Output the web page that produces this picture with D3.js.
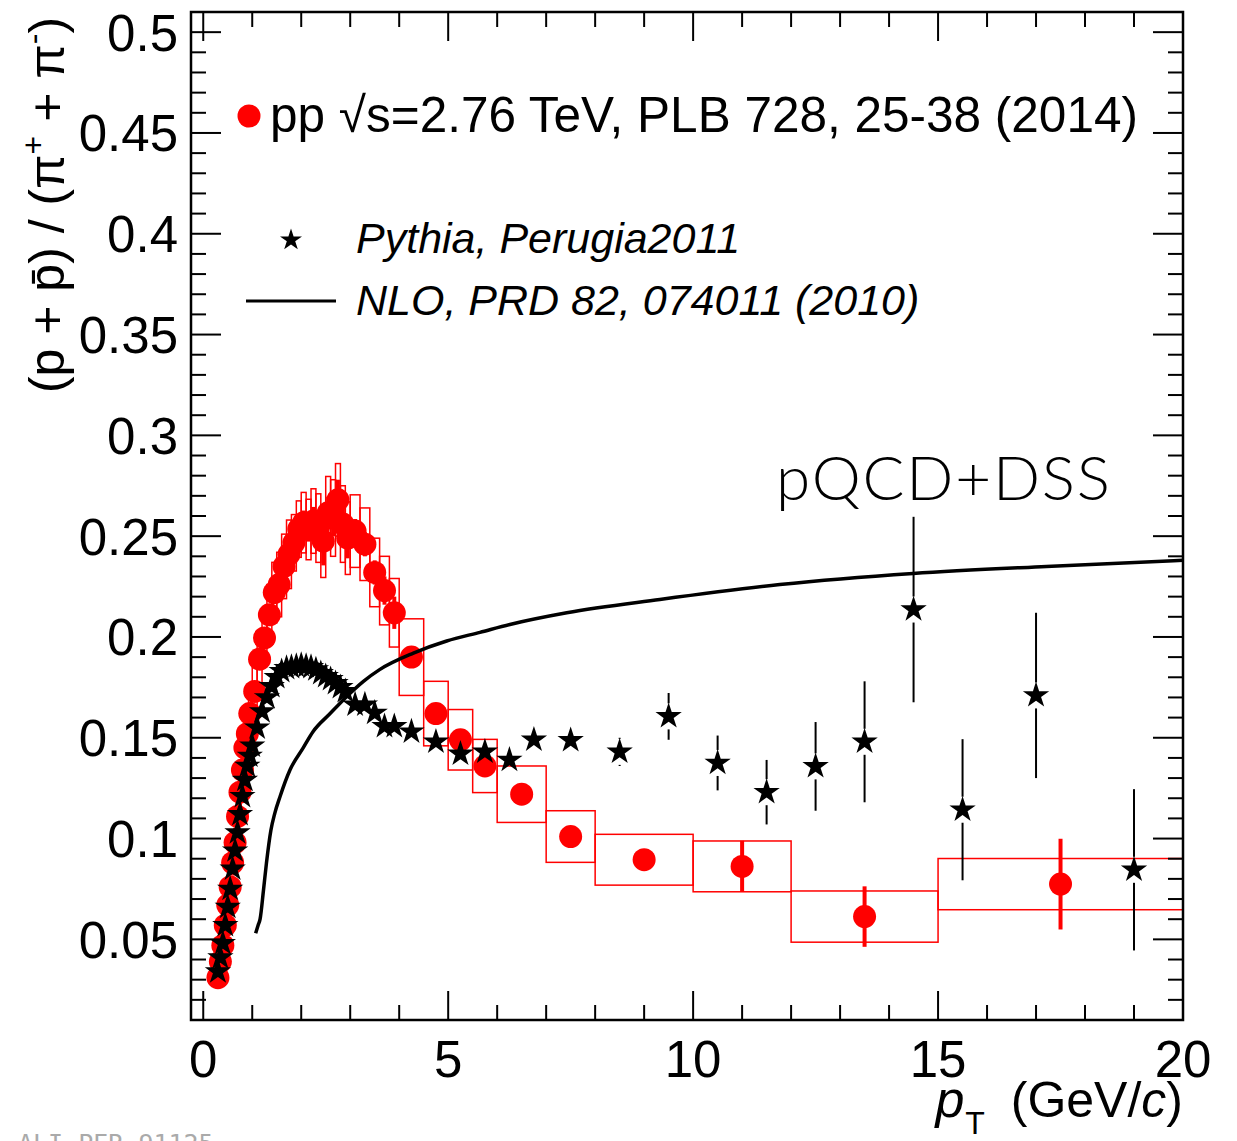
<!DOCTYPE html>
<html>
<head>
<meta charset="utf-8">
<script src="https://cdn.jsdelivr.net/npm/d3@7"></script>
<style>
  body { margin: 0; background: #fff; }
  text { font-family: "Liberation Sans", Arial, Helvetica, sans-serif; }
</style>
</head>
<body>
<div id="chart"></div>
<script>
// Chart size and plot frame
const width = 1237;
const height = 1141;
const margin = { top: 12, right: 54, bottom: 121, left: 191 };

// ALICE pp 2.76 TeV (p+pbar)/(pi+ + pi-) : pT, ratio, stat, sys, bin edges
const dataPt = [0.30, 0.35, 0.40, 0.45, 0.50, 0.55, 0.60, 0.65, 0.70, 0.75, 0.80, 0.85, 0.90, 0.95,
  1.05, 1.15, 1.25, 1.35, 1.45, 1.55, 1.65, 1.75, 1.85, 1.95, 2.05, 2.15, 2.25, 2.35, 2.45, 2.55, 2.65, 2.75, 2.85, 2.95,
  3.1, 3.3, 3.5, 3.7, 3.9,
  4.25, 4.75, 5.25, 5.75, 6.5, 7.5, 9, 11, 13.5, 17.5];
const dataVal = [0.031, 0.039, 0.047, 0.057, 0.067, 0.076, 0.088, 0.098, 0.111, 0.123, 0.134, 0.145, 0.152, 0.162,
  0.173, 0.189, 0.1995, 0.211, 0.222, 0.226, 0.235, 0.241, 0.2467, 0.2535, 0.2567, 0.2533, 0.2575, 0.254, 0.2475, 0.2616, 0.259, 0.268, 0.256, 0.249,
  0.2525, 0.246, 0.232, 0.223, 0.212,
  0.190, 0.162, 0.149, 0.136, 0.122, 0.101, 0.0895, 0.0862, 0.0613, 0.0774];
const dataStat = [0.001, 0.001, 0.001, 0.001, 0.001, 0.001, 0.002, 0.002, 0.002, 0.002, 0.002, 0.002, 0.003, 0.003,
  0.003, 0.004, 0.003, 0.003, 0.003, 0.003, 0.004, 0.004, 0.005, 0.005, 0.006, 0.006, 0.007, 0.008, 0.012, 0.008, 0.009, 0.010, 0.010, 0.010,
  0.006, 0.006, 0.006, 0.007, 0.008,
  0.003, 0.003, 0.003, 0.003, 0.002, 0.002, 0.003, 0.0127, 0.015, 0.0225];
const dataSys = [0.003, 0.003, 0.004, 0.004, 0.005, 0.005, 0.006, 0.007, 0.008, 0.009, 0.009, 0.010, 0.011, 0.011,
  0.012, 0.013, 0.014, 0.015, 0.015, 0.016, 0.016, 0.017, 0.014, 0.014, 0.015, 0.015, 0.016, 0.017, 0.018, 0.018, 0.019, 0.018, 0.019, 0.018,
  0.018, 0.018, 0.017, 0.017, 0.017,
  0.019, 0.016, 0.015, 0.0132, 0.014, 0.0128, 0.0126, 0.0126, 0.0127, 0.0127];
const dataBinLo = [0.275, 0.325, 0.375, 0.425, 0.475, 0.525, 0.575, 0.625, 0.675, 0.725, 0.775, 0.825, 0.875, 0.925,
  1.0, 1.1, 1.2, 1.3, 1.4, 1.5, 1.6, 1.7, 1.8, 1.9, 2.0, 2.1, 2.2, 2.3, 2.4, 2.5, 2.6, 2.7, 2.8, 2.9,
  3.0, 3.2, 3.4, 3.6, 3.8,
  4.0, 4.5, 5.0, 5.5, 6, 7, 8, 10, 12, 15];
const dataBinHi = [0.325, 0.375, 0.425, 0.475, 0.525, 0.575, 0.625, 0.675, 0.725, 0.775, 0.825, 0.875, 0.925, 0.975,
  1.1, 1.2, 1.3, 1.4, 1.5, 1.6, 1.7, 1.8, 1.9, 2.0, 2.1, 2.2, 2.3, 2.4, 2.5, 2.6, 2.7, 2.8, 2.9, 3.0,
  3.2, 3.4, 3.6, 3.8, 4.0,
  4.5, 5.0, 5.5, 6.0, 7, 8, 10, 12, 15, 20];

// Pythia Perugia2011
const pythiaPt = [0.3, 0.35, 0.4, 0.45, 0.5, 0.55, 0.6, 0.65, 0.7, 0.75, 0.8, 0.85, 0.9, 0.95, 1.0,
  1.1, 1.2, 1.3, 1.4, 1.5, 1.6, 1.7, 1.8, 1.9, 2.0, 2.1, 2.2, 2.3, 2.4, 2.5, 2.6, 2.7, 2.8, 2.9,
  3.1, 3.3, 3.5, 3.7, 3.9, 4.25, 4.75, 5.25, 5.75, 6.25, 6.75, 7.5, 8.5, 9.5, 10.5, 11.5, 12.5, 13.5, 14.5, 15.5, 17, 19];
const pythiaVal = [0.034, 0.041, 0.048, 0.057, 0.066, 0.075, 0.085, 0.094, 0.103, 0.112, 0.121, 0.129, 0.136, 0.141, 0.146,
  0.155, 0.163, 0.170, 0.1755, 0.180, 0.183, 0.1845, 0.185, 0.1855, 0.186, 0.1855, 0.185, 0.1838, 0.182, 0.1805, 0.179, 0.177, 0.175, 0.173,
  0.1664, 0.1664, 0.1623, 0.1557, 0.1557, 0.153, 0.148, 0.142, 0.143, 0.139, 0.149, 0.1487, 0.143, 0.1606, 0.1375, 0.123, 0.1358, 0.148, 0.2136, 0.1143, 0.171, 0.0845];
const pythiaErr = [0.001, 0.001, 0.001, 0.001, 0.001, 0.001, 0.001, 0.001, 0.001, 0.001, 0.001, 0.001, 0.001, 0.001, 0.001,
  0.001, 0.001, 0.001, 0.001, 0.001, 0.001, 0.001, 0.001, 0.001, 0.001, 0.001, 0.001, 0.001, 0.001, 0.001, 0.001, 0.001, 0.001, 0.001,
  0.001, 0.001, 0.002, 0.002, 0.002, 0.002, 0.002, 0.002, 0.003, 0.003, 0.003, 0.004, 0.007, 0.0116, 0.0136, 0.016, 0.022, 0.030, 0.046, 0.035, 0.041, 0.040];

// NLO pQCD+DSS curve
const nloPt = [1.07, 1.12, 1.16, 1.23, 1.29, 1.38, 1.46, 1.57, 1.77, 2.04, 2.24, 2.59, 2.93, 3.27, 3.6, 4.29, 4.97, 5.65, 6.26, 7.42, 9.32, 11.77, 14.49, 17.21, 20];
const nloVal = [0.053, 0.057, 0.060, 0.0745, 0.0878, 0.104, 0.1125, 0.121, 0.134, 0.145, 0.153, 0.162, 0.1705, 0.178, 0.1838, 0.192, 0.198, 0.2023, 0.2062, 0.212, 0.2186, 0.226, 0.2315, 0.235, 0.238];

// Axis ticks and labels
const xMajor = [0, 5, 10, 15, 20];
const xLabels = ["0", "5", "10", "15", "20"];
const yMajor = [0.05, 0.1, 0.15, 0.2, 0.25, 0.3, 0.35, 0.4, 0.45, 0.5];
const yLabels = ["0.05", "0.1", "0.15", "0.2", "0.25", "0.3", "0.35", "0.4", "0.45", "0.5"];

const red = "#ff0000";
const svg = d3.select("#chart").append("svg")
  .attr("width", width)
  .attr("height", height);

const x = d3.scaleLinear().domain([-0.25, 20]).range([margin.left, width - margin.right]);
const y = d3.scaleLinear().domain([0.01, 0.51]).range([height - margin.bottom, margin.top]);

const x0 = margin.left, x1 = width - margin.right;
const y0 = margin.top, y1 = height - margin.bottom;

// systematic boxes
const points = dataPt.map((pt, i) => ({ pt, v: dataVal[i], st: dataStat[i], sy: dataSys[i], lo: dataBinLo[i], hi: dataBinHi[i] }));
svg.append("g").selectAll("rect")
  .data(points)
  .enter().append("rect")
  .attr("x", d => x(d.lo))
  .attr("width", d => x(d.hi) - x(d.lo))
  .attr("y", d => y(d.v + d.sy))
  .attr("height", d => y(d.v - d.sy) - y(d.v + d.sy))
  .attr("fill", "none")
  .attr("stroke", red)
  .attr("stroke-width", 1.5);

// data points
svg.append("g").selectAll("circle")
  .data(points)
  .enter().append("circle")
  .attr("cx", d => x(d.pt))
  .attr("cy", d => y(d.v))
  .attr("r", 11.5)
  .attr("fill", red);

svg.append("g").selectAll("line")
  .data(points)
  .enter().append("line")
  .attr("x1", d => x(d.pt)).attr("x2", d => x(d.pt))
  .attr("y1", d => y(d.v + d.st)).attr("y2", d => y(d.v - d.st))
  .attr("stroke", red)
  .attr("stroke-width", 4);

// pythia stars with error bars (gap around marker)
const stars = pythiaPt.map((pt, i) => ({ pt, v: pythiaVal[i], e: pythiaErr[i] }));
const gap = 13;
const errG = svg.append("g").attr("stroke", "#000").attr("stroke-width", 2);
stars.forEach(d => {
  const yc = y(d.v), yt = y(d.v + d.e), yb = y(d.v - d.e);
  if (yc - gap > yt) errG.append("line").attr("x1", x(d.pt)).attr("x2", x(d.pt)).attr("y1", yt).attr("y2", yc - gap);
  if (yb > yc + gap) errG.append("line").attr("x1", x(d.pt)).attr("x2", x(d.pt)).attr("y1", yc + gap).attr("y2", yb);
});

const star = d3.symbol().type(d3.symbolStar).size(215);
svg.append("g").selectAll("path")
  .data(stars)
  .enter().append("path")
  .attr("transform", d => `translate(${x(d.pt)},${y(d.v)})`)
  .attr("d", star)
  .attr("fill", "#000");

// NLO line
const line = d3.line()
  .x((d, i) => x(nloPt[i]))
  .y(d => y(d))
  .curve(d3.curveMonotoneX);
svg.append("path")
  .attr("d", line(nloVal))
  .attr("fill", "none")
  .attr("stroke", "#000")
  .attr("stroke-width", 3.5);

// frame
svg.append("rect")
  .attr("x", x0).attr("y", y0)
  .attr("width", x1 - x0).attr("height", y1 - y0)
  .attr("fill", "none")
  .attr("stroke", "#000")
  .attr("stroke-width", 2.5);

// ticks on all four sides, pointing inwards
const tickG = svg.append("g").attr("stroke", "#000").attr("stroke-width", 2);
const xMinor = d3.range(0, 21, 1);
const yMinor = d3.range(1, 52).map(k => k / 100);
xMinor.forEach(v => {
  const len = xMajor.includes(v) ? 29 : 15;
  tickG.append("line").attr("x1", x(v)).attr("x2", x(v)).attr("y1", y1).attr("y2", y1 - len);
  tickG.append("line").attr("x1", x(v)).attr("x2", x(v)).attr("y1", y0).attr("y2", y0 + len);
});
yMinor.forEach(v => {
  const major = yMajor.some(m => Math.abs(m - v) < 1e-9);
  const len = major ? 30 : 15;
  tickG.append("line").attr("x1", x0).attr("x2", x0 + len).attr("y1", y(v)).attr("y2", y(v));
  tickG.append("line").attr("x1", x1).attr("x2", x1 - len).attr("y1", y(v)).attr("y2", y(v));
});

// tick labels
svg.append("g").selectAll("text")
  .data(xMajor)
  .enter().append("text")
  .attr("x", d => x(d))
  .attr("y", 1077)
  .attr("text-anchor", "middle")
  .attr("font-size", 51)
  .text((d, i) => xLabels[i]);

svg.append("g").selectAll("text")
  .data(yMajor)
  .enter().append("text")
  .attr("x", 178)
  .attr("y", d => y(d))
  .attr("dy", "0.36em")
  .attr("text-anchor", "end")
  .attr("font-size", 51)
  .text((d, i) => yLabels[i]);

// x title
const xt = svg.append("text")
  .attr("x", x1)
  .attr("y", 1117)
  .attr("text-anchor", "end")
  .attr("font-size", 50);
xt.append("tspan").attr("font-style", "italic").attr("font-size", 52).text("p");
xt.append("tspan").attr("font-size", 32).attr("dx", 1).attr("dy", 17).text("T");
xt.append("tspan").attr("dx", 12).attr("dy", -17).text("\u00a0(GeV/");
xt.append("tspan").attr("font-style", "italic").text("c");
xt.append("tspan").text(")");

// y title
const yt = svg.append("text")
  .attr("transform", "translate(64,205) rotate(-90)")
  .attr("text-anchor", "middle")
  .attr("font-size", 50);
yt.append("tspan").text("(p + p\u0304) / (\u03c0");
yt.append("tspan").attr("font-size", 32).attr("dy", -20).text("+");
yt.append("tspan").attr("dy", 20).text(" + \u03c0");
yt.append("tspan").attr("font-size", 32).attr("dy", -20).text("-");
yt.append("tspan").attr("dy", 20).text(")");

// legend
svg.append("circle").attr("cx", 249).attr("cy", 116).attr("r", 11.5).attr("fill", red);
svg.append("text").attr("x", 270).attr("y", 132).attr("font-size", 49.5)
  .text("pp \u221As=2.76 TeV, PLB 728, 25-38 (2014)");

svg.append("path")
  .attr("transform", "translate(291,240)")
  .attr("d", d3.symbol().type(d3.symbolStar).size(150)())
  .attr("fill", "#000");
svg.append("text").attr("x", 356).attr("y", 253).attr("font-size", 43).attr("font-style", "italic")
  .text("Pythia, Perugia2011");

svg.append("line").attr("x1", 246).attr("x2", 336).attr("y1", 301).attr("y2", 301)
  .attr("stroke", "#000").attr("stroke-width", 3);
svg.append("text").attr("x", 356).attr("y", 315).attr("font-size", 43).attr("font-style", "italic")
  .text("NLO, PRD 82, 074011 (2010)");

// curve label
svg.append("text")
  .attr("x", 776).attr("y", 500)
  .attr("font-size", 62)
  .attr("letter-spacing", 1.8)
  .style("font-family", "Lato, 'Liberation Sans', sans-serif")
  .attr("font-weight", 300)
  .text("pQCD+DSS");

// figure id, cut off at the bottom edge
svg.append("text")
  .attr("x", 18).attr("y", 1152)
  .attr("font-size", 25)
  .style("font-family", "'DejaVu Sans Mono', monospace")
  .attr("fill", "#aaa")
  .text("ALI-PER-91125");
</script>
</body>
</html>
